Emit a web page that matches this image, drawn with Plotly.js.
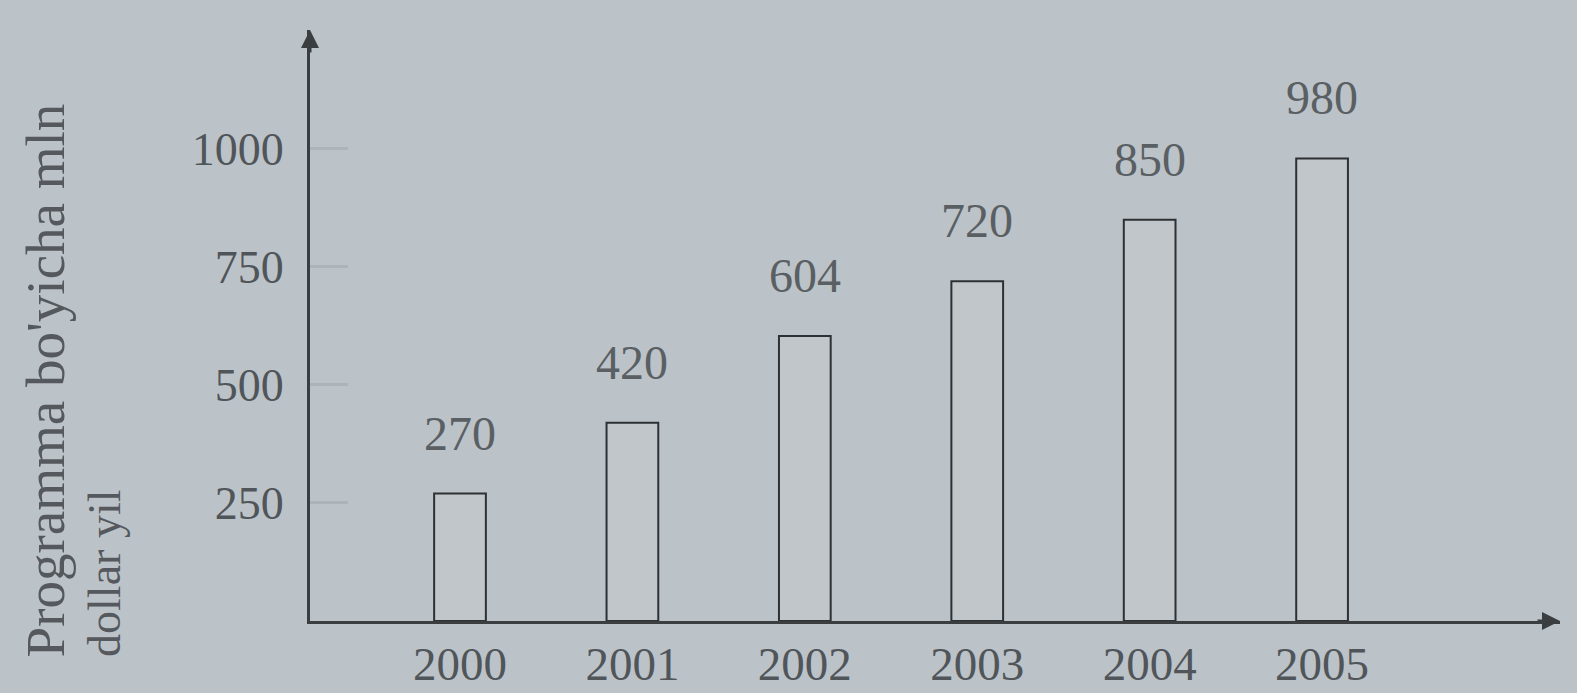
<!DOCTYPE html>
<html>
<head>
<meta charset="utf-8">
<script src="https://cdn.plot.ly/plotly-3.0.1.min.js"></script>
<style>html,body{margin:0;padding:0;background:#bcc3c8;}</style>
</head>
<body>
<div id="chart" style="width:1577px;height:693px;"></div>
<script>
const years = ["2000", "2001", "2002", "2003", "2004", "2005"];
const values = [270, 420, 604, 720, 850, 980];
const yTicks = [250, 500, 750, 1000];
const yTitleLine1 = "Programma bo'yicha mln";
const yTitleLine2 = "dollar yil";

const bg = "#bcc3c8";
const serif = "Liberation Serif, DejaVu Serif, serif";

const trace = {
  type: "bar",
  x: years,
  y: values,
  width: 0.3,
  marker: { color: "#c0c6ca", line: { color: "#2e3133", width: 2 } },
  cliponaxis: false,
  hoverinfo: "skip"
};

const valueLabels = years.map((yr, i) => ({
  xref: "x", yref: "y", x: i, y: values[i],
  xanchor: "center", yanchor: "bottom", yshift: 32,
  showarrow: false, text: String(values[i]),
  font: { family: serif, size: 48, color: "#5a5f63" }
}));

const layout = {
  width: 1577,
  height: 693,
  paper_bgcolor: bg,
  plot_bgcolor: bg,
  margin: { l: 310, r: 17, t: 30, b: 72 },
  showlegend: false,
  xaxis: {
    type: "category",
    range: [-0.87, 6.38],
    showline: true,
    linecolor: "#3a3e41",
    linewidth: 3,
    ticks: "",
    showgrid: false,
    zeroline: false,
    ticklabelstandoff: 0,
    tickfont: { family: serif, size: 47, color: "#50555a" }
  },
  yaxis: {
    range: [0, 1252],
    tickvals: yTicks,
    ticktext: yTicks.map(String),
    ticks: "inside",
    ticklen: 38,
    tickwidth: 3,
    tickcolor: "#adb4b9",
    showline: true,
    linecolor: "#3a3e41",
    linewidth: 3,
    showgrid: false,
    zeroline: false,
    ticklabelstandoff: 14,
    tickfont: { family: serif, size: 46, color: "#50555a" }
  },
  annotations: valueLabels.concat([
    { xref: "paper", yref: "paper", x: 0, y: 1.0, ax: 0, ay: 24, axref: "pixel", ayref: "pixel",
      showarrow: true, arrowhead: 2, arrowsize: 1.2, arrowwidth: 3, arrowcolor: "#3a3e41", text: "" },
    { xref: "paper", yref: "paper", x: 1.0, y: 0, ax: -24, ay: 0,
      showarrow: true, arrowhead: 2, arrowsize: 1.2, arrowwidth: 3, arrowcolor: "#3a3e41", text: "" },
    { xref: "paper", yref: "paper", x: -0.212, y: -0.065, xanchor: "center", yanchor: "bottom",
      textangle: -90, showarrow: false, text: yTitleLine1,
      font: { family: serif, size: 55, color: "#55595d" } },
    { xref: "paper", yref: "paper", x: -0.164, y: -0.065, xanchor: "center", yanchor: "bottom",
      textangle: -90, showarrow: false, text: yTitleLine2,
      font: { family: serif, size: 46, color: "#55595d" } }
  ])
};

Plotly.newPlot("chart", [trace], layout, { displayModeBar: false, staticPlot: true });
</script>
</body>
</html>
